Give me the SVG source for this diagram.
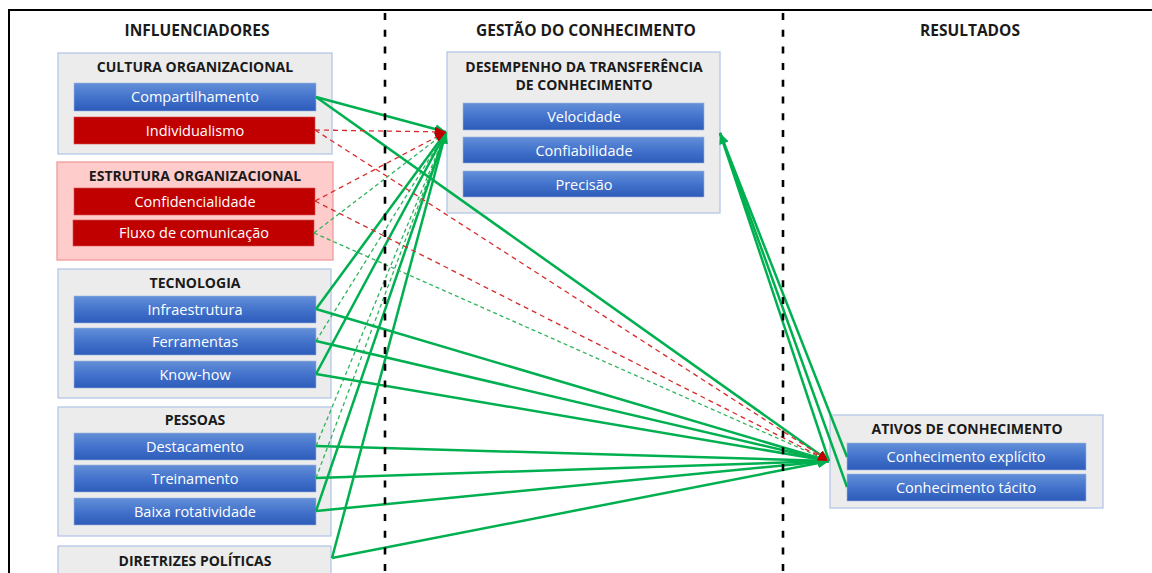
<svg xmlns="http://www.w3.org/2000/svg" width="1152" height="573" viewBox="0 0 1152 573">
<defs>
<linearGradient id="blueGrad" x1="0" y1="0" x2="0" y2="1">
<stop offset="0" stop-color="#6490d8"/>
<stop offset="0.5" stop-color="#4373cc"/>
<stop offset="1" stop-color="#2d5bba"/>
</linearGradient>
<marker id="arrG" markerUnits="userSpaceOnUse" markerWidth="12" markerHeight="10" refX="11" refY="5" orient="auto">
<path d="M0,0 L11,5 L0,10 z" fill="#00b050"/>
</marker>
<marker id="arrR" markerUnits="userSpaceOnUse" markerWidth="12" markerHeight="10" refX="11" refY="5" orient="auto">
<path d="M0,0 L11,5 L0,10 z" fill="#c00000"/>
</marker>
</defs>
<style>
.hdr{font-family:"Open Sans","Liberation Sans",sans-serif;font-weight:bold;font-size:15.5px;fill:#1a1a1a;text-anchor:middle}
.ttl{font-family:"Open Sans","Liberation Sans",sans-serif;font-weight:bold;font-size:14px;fill:#1a1a1a;text-anchor:middle}
.bt{font-family:"Open Sans","Liberation Sans",sans-serif;font-size:14.5px;fill:#ffffff;text-anchor:middle}
.grp{fill:#ececec;stroke:#b4c7e7;stroke-width:1.3}
.grpR{fill:#ffcccc;stroke:#f09a9a;stroke-width:1.3}
.bb{fill:url(#blueGrad);stroke:#9fb6e2;stroke-width:0.6}
.rb{fill:#c00000;stroke:#d85050;stroke-width:0.6}
.sg{stroke:#00b050;stroke-width:2.5;fill:none}
.dg{stroke:#2fb35c;stroke-width:1.3;stroke-dasharray:4 3;fill:none}
.dr{stroke:#d82c2c;stroke-width:1.3;stroke-dasharray:5 4;fill:none}
.div{stroke:#000;stroke-width:2.6;stroke-dasharray:7 9.7;fill:none}
</style>
<rect width="1152" height="573" fill="#ffffff"/>
<rect x="9" y="10" width="1160" height="600" fill="none" stroke="#000" stroke-width="2"/>

<text class="hdr" x="197" y="36">INFLUENCIADORES</text>
<text class="hdr" x="586" y="36">GESTÃO DO CONHECIMENTO</text>
<text class="hdr" x="970" y="36">RESULTADOS</text>

<g id="cultura">
<rect class="grp" x="58" y="53" width="274" height="101"/>
<text class="ttl" x="195" y="72">CULTURA ORGANIZACIONAL</text>
<g id="compartilhamento"><rect class="bb" x="74" y="83" width="242" height="28"/><text class="bt" x="195" y="102">Compartilhamento</text></g>
<g id="individualismo"><rect class="rb" x="74" y="117" width="241" height="27"/><text class="bt" x="195" y="136">Individualismo</text></g>
</g>

<g id="estrutura">
<rect class="grpR" x="57" y="162" width="276" height="98"/>
<text class="ttl" x="195" y="181">ESTRUTURA ORGANIZACIONAL</text>
<g id="confidencialidade"><rect class="rb" x="74" y="188" width="241" height="27"/><text class="bt" x="195" y="207">Confidencialidade</text></g>
<g id="fluxo"><rect class="rb" x="73" y="220" width="241" height="26"/><text class="bt" x="194" y="238">Fluxo de comunicação</text></g>
</g>

<g id="tecnologia">
<rect class="grp" x="58" y="269" width="273" height="129"/>
<text class="ttl" x="195" y="288">TECNOLOGIA</text>
<g id="infraestrutura"><rect class="bb" x="74" y="296" width="242" height="27"/><text class="bt" x="195" y="315">Infraestrutura</text></g>
<g id="ferramentas"><rect class="bb" x="74" y="328" width="242" height="27"/><text class="bt" x="195" y="347">Ferramentas</text></g>
<g id="knowhow"><rect class="bb" x="74" y="361" width="242" height="27"/><text class="bt" x="195" y="380">Know-how</text></g>
</g>

<g id="pessoas">
<rect class="grp" x="58" y="407" width="273" height="129"/>
<text class="ttl" x="195" y="425">PESSOAS</text>
<g id="destacamento"><rect class="bb" x="74" y="433" width="242" height="27"/><text class="bt" x="195" y="452">Destacamento</text></g>
<g id="treinamento"><rect class="bb" x="74" y="465" width="242" height="27"/><text class="bt" x="195" y="484">Treinamento</text></g>
<g id="baixa"><rect class="bb" x="74" y="498" width="242" height="27"/><text class="bt" x="195" y="517">Baixa rotatividade</text></g>
</g>

<g id="diretrizes">
<rect class="grp" x="58" y="546" width="273" height="40"/>
<text class="ttl" x="195" y="566">DIRETRIZES POLÍTICAS</text>
</g>

<g id="desempenho">
<rect class="grp" x="447" y="52" width="273" height="161"/>
<text class="ttl" x="584" y="72">DESEMPENHO DA TRANSFERÊNCIA</text>
<text class="ttl" x="584" y="90">DE CONHECIMENTO</text>
<g id="velocidade"><rect class="bb" x="463" y="103" width="241" height="27"/><text class="bt" x="584" y="122">Velocidade</text></g>
<g id="confiabilidade"><rect class="bb" x="463" y="137" width="241" height="26"/><text class="bt" x="584" y="156">Confiabilidade</text></g>
<g id="precisao"><rect class="bb" x="463" y="171" width="241" height="26"/><text class="bt" x="584" y="190">Precisão</text></g>
</g>

<g id="ativos">
<rect class="grp" x="830" y="415" width="273" height="93"/>
<text class="ttl" x="967" y="434">ATIVOS DE CONHECIMENTO</text>
<g id="explicito"><rect class="bb" x="847" y="443" width="239" height="27"/><text class="bt" x="966" y="462">Conhecimento explícito</text></g>
<g id="tacito"><rect class="bb" x="847" y="474" width="239" height="27"/><text class="bt" x="966" y="493">Conhecimento tácito</text></g>
</g>

<g id="connectors">
<line class="sg" x1="316" y1="97" x2="446" y2="132" marker-end="url(#arrG)"/>
<line class="dg" x1="314" y1="233" x2="446" y2="132" marker-end="url(#arrG)"/>
<line class="sg" x1="316" y1="309" x2="446" y2="132" marker-end="url(#arrG)"/>
<line class="dg" x1="316" y1="341" x2="446" y2="132" marker-end="url(#arrG)"/>
<line class="sg" x1="316" y1="374" x2="446" y2="132" marker-end="url(#arrG)"/>
<line class="dg" x1="316" y1="446" x2="446" y2="132" marker-end="url(#arrG)"/>
<line class="dg" x1="316" y1="478" x2="446" y2="132" marker-end="url(#arrG)"/>
<line class="sg" x1="316" y1="511" x2="446" y2="132" marker-end="url(#arrG)"/>
<line class="sg" x1="332" y1="558" x2="446" y2="132" marker-end="url(#arrG)"/>
<line class="sg" x1="316" y1="97" x2="829" y2="461" marker-end="url(#arrG)"/>
<line class="dg" x1="314" y1="233" x2="829" y2="461" marker-end="url(#arrG)"/>
<line class="sg" x1="316" y1="309" x2="829" y2="461" marker-end="url(#arrG)"/>
<line class="sg" x1="316" y1="341" x2="829" y2="461" marker-end="url(#arrG)"/>
<line class="sg" x1="316" y1="374" x2="829" y2="461" marker-end="url(#arrG)"/>
<line class="sg" x1="316" y1="446" x2="829" y2="461" marker-end="url(#arrG)"/>
<line class="sg" x1="316" y1="478" x2="829" y2="461" marker-end="url(#arrG)"/>
<line class="sg" x1="316" y1="511" x2="829" y2="461" marker-end="url(#arrG)"/>
<line class="sg" x1="332" y1="558" x2="829" y2="461" marker-end="url(#arrG)"/>
<line class="dr" x1="315" y1="130" x2="446" y2="132" marker-end="url(#arrR)"/>
<line class="dr" x1="315" y1="201" x2="446" y2="132" marker-end="url(#arrR)"/>
<line class="dr" x1="315" y1="130" x2="829" y2="461" marker-end="url(#arrR)"/>
<line class="dr" x1="315" y1="201" x2="829" y2="461" marker-end="url(#arrR)"/>
<line class="sg" x1="829" y1="461" x2="720" y2="133"/>
<line class="sg" x1="847" y1="487" x2="720" y2="133"/>
<line class="sg" x1="847" y1="457" x2="720" y2="133" marker-end="url(#arrG)"/>
</g>

<line class="div" x1="385" y1="13" x2="385" y2="573"/>
<line class="div" x1="783" y1="13" x2="783" y2="573"/>
</svg>
